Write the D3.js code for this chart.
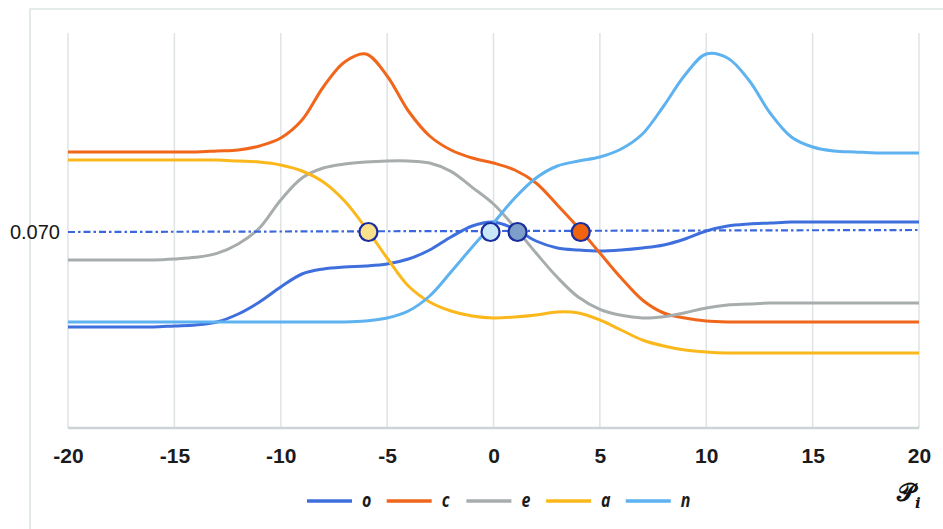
<!DOCTYPE html>
<html>
<head>
<meta charset="utf-8">
<script src="https://cdn.jsdelivr.net/npm/d3@7"></script>
<style>
  html, body { margin: 0; padding: 0; background: #ffffff; }
  #chart { width: 943px; height: 529px; }
  .tick-x text { font-family: "Liberation Sans", Arial, sans-serif; font-weight: bold; font-size: 21px; fill: #1b1b1b; }
  .tick-y text { font-family: "Liberation Sans", Arial, sans-serif; font-size: 20px; fill: #161616; }
  .legend-label { font-family: "Open Sans", sans-serif; font-weight: bold; font-style: italic; font-size: 20px; fill: #1b1b1b; }
</style>
</head>
<body>
<div id="chart"></div>
<script>

// x positions P_i, shared by every series
const xValues = d3.range(-20, 21, 1);

// tick labels
const xTicks = [-20, -15, -10, -5, 0, 5, 10, 15, 20];
const yTicks = [0.070];

// series
const seriesNames = ['o', 'c', 'e', 'a', 'n'];
const seriesColors = ['#3f6fdd', '#f0671c', '#a7acad', '#fbb81c', '#5db2ef'];

const oValues = [0.05575, 0.05575, 0.05575, 0.05575, 0.05575, 0.0559, 0.05605, 0.0565, 0.0577, 0.0595,
    0.06175, 0.0637, 0.06445, 0.06475, 0.0649, 0.0652, 0.06595, 0.0673, 0.06925, 0.0709,
    0.0715, 0.07045, 0.06865, 0.0676, 0.0673, 0.06715, 0.0673, 0.0676, 0.06805, 0.06895,
    0.07015, 0.0709, 0.0712, 0.07135, 0.0715, 0.0715, 0.0715, 0.0715, 0.0715, 0.0715, 0.0715];

const cValues = [0.0820, 0.0820, 0.0820, 0.0820, 0.0820, 0.0820, 0.0820, 0.08215, 0.0823, 0.0829,
    0.0841, 0.0868, 0.09175, 0.0955, 0.0967, 0.0934, 0.08815, 0.0844, 0.0823, 0.0811,
    0.08035, 0.0793, 0.07735, 0.07405, 0.0706, 0.06685, 0.0631, 0.0598, 0.05785, 0.0571,
    0.05665, 0.0565, 0.0565, 0.0565, 0.0565, 0.0565, 0.0565, 0.0565, 0.0565, 0.0565, 0.0565];

const eValues = [0.0658, 0.0658, 0.0658, 0.0658, 0.0658, 0.06595, 0.0662, 0.0668, 0.0682, 0.0706,
    0.0748, 0.0781, 0.0796, 0.0802, 0.0805, 0.08065, 0.08065, 0.08035, 0.0791, 0.0767,
    0.0742, 0.0707, 0.06685, 0.0632, 0.0602, 0.0584, 0.0575, 0.0571, 0.0573, 0.0579,
    0.0586, 0.05905, 0.0592, 0.05935, 0.05935, 0.05935, 0.05935, 0.05935, 0.05935, 0.05935, 0.05935];

const aValues = [0.0808, 0.0808, 0.0808, 0.0808, 0.0808, 0.0808, 0.0808, 0.0808, 0.08065, 0.0805,
    0.08005, 0.07915, 0.0775, 0.07465, 0.0706, 0.0661, 0.0619, 0.0595, 0.05815, 0.0574,
    0.0571, 0.05725, 0.05755, 0.058, 0.05785, 0.0568, 0.0553, 0.0538, 0.0529, 0.0523,
    0.052, 0.05185, 0.05185, 0.05185, 0.05185, 0.05185, 0.05185, 0.05185, 0.05185, 0.05185, 0.05185];

const nValues = [0.0565, 0.0565, 0.0565, 0.0565, 0.0565, 0.0565, 0.0565, 0.0565, 0.0565, 0.0565,
    0.0565, 0.0565, 0.0565, 0.0565, 0.05665, 0.0571, 0.05815, 0.0604, 0.064, 0.06775,
    0.07135, 0.0751, 0.0781, 0.0799, 0.08065, 0.08125, 0.08245, 0.0847, 0.0889, 0.09355,
    0.0967, 0.0961, 0.0928, 0.08785, 0.08425, 0.08275, 0.08215, 0.082, 0.08185, 0.08185, 0.08185];

// the 0.070 reference line and the crossing points on it
const refLineX = [-20, 20];
const refLineY = [0.0700, 0.0703];
const markerX = [-5.88, -0.14, 1.13, 4.1];
const markerY = [0.070, 0.070, 0.070, 0.070];
const markerFill = ['#fbe18c', '#c8e8f8', '#7c9ec9', '#f0640f'];


function createSVG(containerId, width, height) {

    try {

        let svg = d3.select(containerId)
            .append('svg')
            .attr('width', width)
            .attr('height', height)
            .attr('viewBox', '0 0 ' + width + ' ' + height);
        return svg;

    } catch (error) {

        console.log('createSVG. Error: ' + error);
        return null;
    }
}

function drawFrame(svg) {

    // the chart area border (only top and left edges fall inside the picture)
    svg.append('path')
        .attr('d', 'M30,529 L30,9 L943,9')
        .attr('fill', 'none')
        .attr('stroke', '#dde3e5')
        .attr('stroke-width', 1.6);
}

function drawGridAndAxes(svg, x, y) {

    try {

        svg.append('g')
            .selectAll('line')
            .data(xTicks).enter()
            .append('line')
            .attr('x1', d => x(d))
            .attr('x2', d => x(d))
            .attr('y1', y.range()[1])
            .attr('y2', y.range()[0])
            .attr('stroke', '#dfe5e7')
            .attr('stroke-width', 1.6);

        svg.append('line')
            .attr('x1', x(-20))
            .attr('x2', x(20))
            .attr('y1', y.range()[0])
            .attr('y2', y.range()[0])
            .attr('stroke', '#cdd4d6')
            .attr('stroke-width', 2.6);

        // plain hyphen for negatives, like the original
        let xAxis = svg.append('g')
            .attr('class', 'tick-x')
            .attr('transform', 'translate(0,' + y.range()[0] + ')')
            .call(d3.axisBottom(x).tickValues(xTicks).tickSize(0).tickPadding(20).tickFormat(d => String(d)));
        xAxis.select('.domain').remove();

        let yAxis = svg.append('g')
            .attr('class', 'tick-y')
            .attr('transform', 'translate(60,0)')
            .call(d3.axisLeft(y).tickValues(yTicks).tickSize(0).tickPadding(0).tickFormat(d3.format('.3f')));
        yAxis.select('.domain').remove();

    } catch (error) {

        console.log('drawGridAndAxes. Error: ' + error);
    }
}

function drawSeries(svg, x, y) {

    try {

        let allValues = [oValues, cValues, eValues, aValues, nValues];

        let line = d3.line()
            .x((d, i) => x(xValues[i]))
            .y(d => y(d))
            .curve(d3.curveCatmullRom.alpha(0.5));

        svg.append('g')
            .selectAll('path')
            .data(allValues).enter()
            .append('path')
            .attr('d', d => line(d))
            .attr('fill', 'none')
            .attr('stroke', (d, i) => seriesColors[i])
            .attr('stroke-width', 3)
            .attr('stroke-linejoin', 'round');

        // dash-dot line at 0.070
        let refLine = d3.line()
            .x((d, i) => x(refLineX[i]))
            .y(d => y(d));

        svg.append('path')
            .attr('d', refLine(refLineY))
            .attr('fill', 'none')
            .attr('stroke', '#3a68dc')
            .attr('stroke-width', 2.2)
            .attr('stroke-dasharray', '7,3,2.5,3');

        svg.append('g')
            .selectAll('circle')
            .data(markerX).enter()
            .append('circle')
            .attr('cx', d => x(d))
            .attr('cy', (d, i) => y(markerY[i]))
            .attr('r', 9)
            .attr('fill', (d, i) => markerFill[i])
            .attr('stroke', '#1b2d9e')
            .attr('stroke-width', 2.2);

    } catch (error) {

        console.log('drawSeries. Error: ' + error);
    }
}

function drawLegend(svg) {

    try {

        let legend = svg.append('g').attr('transform', 'translate(307,501)');

        let items = legend.selectAll('g')
            .data(seriesNames).enter()
            .append('g')
            .attr('transform', (d, i) => 'translate(' + (i * 79.7) + ',0)');

        items.append('line')
            .attr('x1', 0)
            .attr('x2', 45)
            .attr('stroke', (d, i) => seriesColors[i])
            .attr('stroke-width', 3.5);

        items.append('text')
            .attr('class', 'legend-label')
            .attr('transform', 'translate(55,6) scale(0.8,1)')
            .text(d => d);

        // axis title P_i
        let title = svg.append('text')
            .attr('x', 897)
            .attr('y', 501)
            .attr('font-family', '"DejaVu Serif", "DejaVu Sans", serif')
            .attr('font-weight', 'bold')
            .attr('font-size', 25)
            .attr('fill', '#111');
        title.append('tspan').text('\u{1D4AB}');
        title.append('tspan')
            .attr('dy', 7)
            .attr('font-style', 'italic')
            .attr('font-size', 15)
            .text('i');

    } catch (error) {

        console.log('drawLegend. Error: ' + error);
    }
}


let svg = createSVG('#chart', 943, 529);

let xScale = d3.scaleLinear().domain([-20, 20]).range([68, 919]);
let yScale = d3.scaleLinear().domain([0.0406, 0.09985]).range([428, 33]);

drawFrame(svg);
drawGridAndAxes(svg, xScale, yScale);
drawSeries(svg, xScale, yScale);
drawLegend(svg);

</script>
</body>
</html>
